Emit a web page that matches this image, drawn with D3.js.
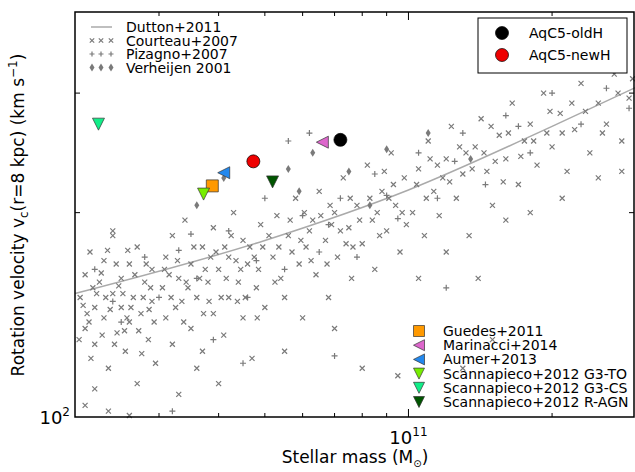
<!DOCTYPE html>
<html>
<head>
<meta charset="UTF-8" />
<script src="https://d3js.org/d3.v7.min.js"></script>
<style>
  body { margin: 0; background: #fff; }
  text { font-family: "DejaVu Sans", sans-serif; }
</style>
</head>
<body>
<svg id="svg" width="635" height="472"></svg>
<script>
// masses in units of 1e10 Msun, velocities in km/s
const dutton = [[2, 152], [5, 182], [10, 216], [20, 268], [30, 306]]

const courteau = [
  [2.05,150],[2.1,162],[2.1,135],[2.15,175],[2.2,145],[2.2,128],[2.25,158],[2.3,140],[2.3,170],[2.35,118],
  [2.4,152],[2.4,185],[2.45,133],[2.5,160],[2.5,145],[2.55,125],[2.6,168],[2.6,138],[2.65,150],[2.7,178],
  [2.7,112],[2.75,142],[2.8,158],[2.85,130],[2.9,165],[2.9,148],[2.95,120],[2.1,104],[2.35,102],[2.6,100.5],
  [2.2,110],[2.4,188],[2.12,142],[2.32,150],[2.52,152],[2.18,155],[2.62,145],[2.42,128],[2.78,150],[2.28,132],
  [2.08,146],[2.14,138],[2.22,152],[2.27,163],[2.37,144],[2.47,156],[2.57,140],[2.67,162],[2.72,134],[2.82,168],
  [2.88,155],[2.93,138],[2.16,122],[2.44,168],[2.58,176],[2.76,124],[2.04,130],[2.34,176],[2.54,134],[2.86,144],
  [3.05,155],[3.1,140],[3.1,172],[3.2,185],[3.2,128],[3.3,160],[3.35,148],[3.4,195],[3.5,135],[3.5,168],
  [3.6,150],[3.7,178],[3.7,125],[3.8,158],[3.9,142],[3.9,190],[4.0,165],[4.1,132],[4.2,172],[4.2,150],
  [4.3,200],[4.4,158],[4.5,140],[4.5,182],[4.6,168],[4.7,122],[4.8,155],[4.9,192],[5.0,145],[3.3,108],
  [4.0,112],[3.6,118],[3.15,162],[3.45,155],[3.75,165],[4.05,150],[4.35,170],[3.25,145],[3.85,172],[4.65,178],
  [3.08,165],[3.18,150],[3.28,170],[3.38,138],[3.55,178],[3.65,160],[3.82,148],[3.95,175],[4.15,160],[4.25,185],
  [4.45,165],[4.55,150],[4.75,172],[4.85,165],[4.95,178],[3.42,158],[3.72,142],[4.12,178],[4.38,148],[4.82,140],
  [5.2,172],[5.3,198],[5.4,160],[5.5,150],[5.6,185],[5.8,210],[5.9,168],[6.0,140],[6.1,178],[6.3,195],
  [6.4,162],[6.5,215],[6.7,182],[6.8,150],[7.0,200],[7.1,172],[7.3,225],[7.5,190],[7.6,160],[7.8,205],
  [8.0,180],[8.2,235],[8.4,195],[8.5,165],[8.8,215],[9.0,188],[9.2,245],[9.4,205],[9.6,175],[9.8,225],
  [5.5,125],[7.0,135],[8.0,118],[9.5,115],[5.7,175],[6.2,188],[6.9,192],[7.4,180],[8.6,200],[9.1,210],
  [5.1,185],[5.35,178],[5.65,195],[5.95,182],[6.25,170],[6.55,198],[6.85,205],[7.2,188],[7.55,210],[7.9,195],
  [8.3,210],[8.7,185],[9.3,220],[9.7,200],[5.25,158],[6.05,200],[6.75,168],[7.65,178],[8.9,230],[9.9,192],
  [10.2,200],[10.5,232],[10.8,185],[11,255],[11.3,215],[11.6,198],[12,240],[12.3,268],[12.6,210],[13,228],
  [13.4,185],[13.8,250],[14.2,275],[14.6,230],[15,205],[15.5,260],[16,240],[16.5,290],[17,220],[17.5,255],
  [18,270],[18.6,235],[19.2,300],[20,250],[20.8,280],[21.5,230],[22.3,265],[23,310],[24,245],[25,290],
  [26,270],[27,320],[28,255],[29,295],[10.5,160],[12,175],[14,160],[16,195],[18,200],[21,210],
  [25,225],[28,230],[15,130],[13,118],[17,330],[26,345],[11.8,225],[13.2,245],[15.8,222],[19.5,262],
  [10.4,220],[10.9,210],[11.5,235],[12.2,222],[12.8,250],[13.6,232],[14.4,245],[15.2,238],[16.2,262],[17.2,242],
  [18.3,255],[19.8,282],[21,262],[22,290],[23.5,282],[25.5,262],[27.5,300],[29.5,315],[11.1,240],[14.9,268]
]

const pizagno = [
  [2.2,165],[2.5,138],[2.8,172],[3.0,150],[3.3,176],[3.6,160],[3.9,130],[4.2,188],[4.6,150],[5.0,210],
  [5.5,165],[6.0,198],[6.5,175],[7.2,210],[7.8,172],[8.5,228],[9.5,196],[10.5,245],[11.5,210],[13,262],
  [14.5,220],[16,278],[18,245],[20,300],[23,270],[26,305],[29,285],[4.5,120],[3.2,102],[6.2,262],
  [5.6,255],[12,155],[7,123],[2.4,148],[3.5,186],[4.8,170],[6.8,192],[9,212],[12.5,238],[17,268]
]

const verheijen = [[3.6,205],[4.1,225],[5.6,232],[6.3,245],[5.9,215],[7.5,230],[9,248],[11,262],[13.5,240],[8.3,205]]

const sims = [
  { name: 'Guedes+2011', m: 3.88, v: 219, shape: 'square', color: '#ff9900' },
  { name: 'Marinacci+2014', m: 6.6, v: 254, shape: 'left', color: '#dd66cc' },
  { name: 'Aumer+2013', m: 4.1, v: 229, shape: 'left', color: '#2288ee' },
  { name: 'Scannapieco+2012 G3-TO', m: 3.72, v: 213, shape: 'down', color: '#77ee00' },
  { name: 'Scannapieco+2012 G3-CS', m: 2.24, v: 270, shape: 'down', color: '#11ee88' },
  { name: 'Scannapieco+2012 R-AGN', m: 5.19, v: 222, shape: 'down', color: '#005500' }
]
const aquarius = [
  { name: 'AqC5-oldH', m: 7.2, v: 256, color: '#000000' },
  { name: 'AqC5-newH', m: 4.73, v: 238, color: '#ee0000' }
]

const L = 75, R = 634, T = 12, B = 417
const svg = d3.select('#svg')
const x = d3.scaleLog().domain([2e10, 2.97e11]).range([L, R])
const y = d3.scaleLog().domain([100, 395]).range([B, T])
const px = d => x(d[0] * 1e10), py = d => y(d[1])

const grey = '#7a7a7a'
const g = svg.append('g')

g.append('path').datum(dutton)
  .attr('d', d3.line().x(px).y(py).curve(d3.curveMonotoneX))
  .attr('fill', 'none').attr('stroke', '#aaa').attr('stroke-width', 1.5)

function cross(sel, cx, cy, s) {
  sel.append('path').attr('d', `M${cx-s},${cy-s}L${cx+s},${cy+s}M${cx-s},${cy+s}L${cx+s},${cy-s}`)
    .attr('stroke', grey).attr('stroke-width', 1.2)
}
function plus(sel, cx, cy, s) {
  sel.append('path').attr('d', `M${cx-s},${cy}L${cx+s},${cy}M${cx},${cy-s}L${cx},${cy+s}`)
    .attr('stroke', grey).attr('stroke-width', 1.2)
}
function diamond(sel, cx, cy) {
  sel.append('path').attr('d', `M${cx},${cy-4}L${cx+2.5},${cy}L${cx},${cy+4}L${cx-2.5},${cy}Z`).attr('fill', grey)
}
function tri(shape, cx, cy, s) {
  if (shape === 'left') return `M${cx-s},${cy}L${cx+s},${cy-s}L${cx+s},${cy+s}Z`
  if (shape === 'down') return `M${cx-s},${cy-s}L${cx+s},${cy-s}L${cx},${cy+s}Z`
  return `M${cx-s},${cy-s}L${cx+s},${cy-s}L${cx+s},${cy+s}L${cx-s},${cy+s}Z`
}

courteau.forEach(d => cross(g, px(d), py(d), 2.5))
pizagno.forEach(d => plus(g, px(d), py(d), 3))
verheijen.forEach(d => diamond(g, px(d), py(d)))

sims.forEach(s => g.append('path').attr('d', tri(s.shape, x(s.m * 1e10), y(s.v), 6))
  .attr('fill', s.color).attr('stroke', '#333').attr('stroke-width', 0.7))
aquarius.forEach(a => g.append('circle').attr('cx', x(a.m * 1e10)).attr('cy', y(a.v)).attr('r', 6.5)
  .attr('fill', a.color).attr('stroke', '#000').attr('stroke-width', 0.7))

svg.append('rect').attr('x', L).attr('y', T).attr('width', R - L).attr('height', B - T)
  .attr('fill', 'none').attr('stroke', '#000').attr('stroke-width', 1.5)
const xMinor = [3e10, 4e10, 5e10, 6e10, 7e10, 8e10, 9e10, 2e11]
xMinor.forEach(v => {
  svg.append('line').attr('x1', x(v)).attr('x2', x(v)).attr('y1', B).attr('y2', B - 4).attr('stroke', '#000')
  svg.append('line').attr('x1', x(v)).attr('x2', x(v)).attr('y1', T).attr('y2', T + 4).attr('stroke', '#000')
})
svg.append('line').attr('x1', x(1e11)).attr('x2', x(1e11)).attr('y1', B).attr('y2', B - 8).attr('stroke', '#000')
svg.append('line').attr('x1', x(1e11)).attr('x2', x(1e11)).attr('y1', T).attr('y2', T + 8).attr('stroke', '#000')
const yMinor = [200, 300]
yMinor.forEach(v => {
  svg.append('line').attr('x1', L).attr('x2', L + 5).attr('y1', y(v)).attr('y2', y(v)).attr('stroke', '#000')
  svg.append('line').attr('x1', R).attr('x2', R - 5).attr('y1', y(v)).attr('y2', y(v)).attr('stroke', '#000')
})

const tl = svg.append('text').attr('x', x(1e11)).attr('y', 444).attr('text-anchor', 'middle').attr('font-size', 18)
tl.append('tspan').text('10')
tl.append('tspan').attr('font-size', 12).attr('dy', -8).text('11')
const yl = svg.append('text').attr('x', 70).attr('y', B + 7).attr('text-anchor', 'end').attr('font-size', 18)
yl.append('tspan').text('10')
yl.append('tspan').attr('font-size', 12).attr('dy', -8).text('2')

const xt = svg.append('text').attr('x', 355).attr('y', 463).attr('text-anchor', 'middle').attr('font-size', 17)
xt.append('tspan').text('Stellar mass (M')
xt.append('tspan').attr('font-size', 10).attr('dy', 4).text('⊙')
xt.append('tspan').attr('dy', -4).text(')')

const yt = svg.append('text').attr('transform', 'translate(24,215) rotate(-90)').attr('text-anchor', 'middle').attr('font-size', 17)
yt.append('tspan').text('Rotation velocity v')
yt.append('tspan').attr('font-size', 12).attr('dy', 4).text('c')
yt.append('tspan').attr('dy', -4).text('(r=8 kpc)  (km s')
yt.append('tspan').attr('font-size', 12).attr('dy', -7).text('−1')
yt.append('tspan').attr('dy', 7).text(')')

const obs = ['Dutton+2011', 'Courteau+2007', 'Pizagno+2007', 'Verheijen 2001']
obs.forEach((name, i) => {
  const cy = 27 + i * 13.5
  if (i === 0) svg.append('line').attr('x1', 91).attr('x2', 112).attr('y1', cy).attr('y2', cy).attr('stroke', '#aaa').attr('stroke-width', 1.5)
  ;[92, 101, 111].forEach(cx => {
    if (i === 1) cross(svg, cx, cy, 2.2)
    if (i === 2) plus(svg, cx, cy, 2.5)
    if (i === 3) diamond(svg, cx, cy)
  })
  svg.append('text').attr('x', 126).attr('y', cy + 5).attr('font-size', 14).text(name)
})

svg.append('rect').attr('x', 478).attr('y', 18).attr('width', 149).attr('height', 55)
  .attr('fill', '#fff').attr('stroke', '#000').attr('stroke-width', 1)
aquarius.forEach((a, i) => {
  const cy = 33 + i * 22
  svg.append('circle').attr('cx', 502).attr('cy', cy).attr('r', 6.5).attr('fill', a.color).attr('stroke', '#000').attr('stroke-width', 0.7)
  svg.append('text').attr('x', 529).attr('y', cy + 5).attr('font-size', 14).text(a.name)
})

sims.forEach((s, i) => {
  const cy = 331 + i * 14.2
  svg.append('path').attr('d', tri(s.shape, 419, cy, 5.5)).attr('fill', s.color).attr('stroke', '#333').attr('stroke-width', 0.7)
  svg.append('text').attr('x', 443).attr('y', cy + 5).attr('font-size', 14).text(s.name)
})
</script>
</body>
</html>
